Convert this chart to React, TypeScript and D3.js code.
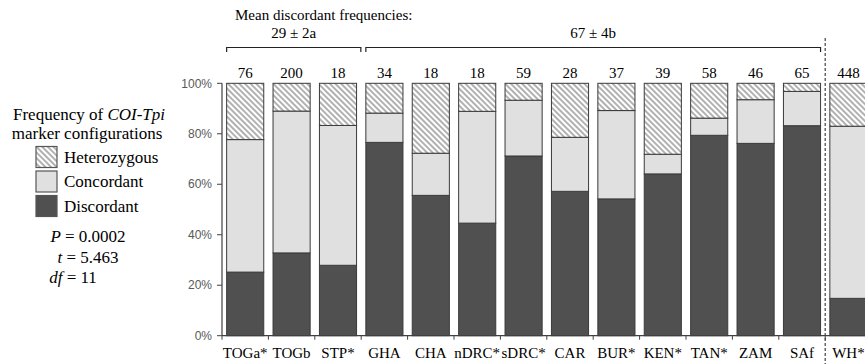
import * as d3 from "d3";

// categories (populations) and sample sizes
const categories = ["TOGa*", "TOGb", "STP*", "GHA", "CHA", "nDRC*", "sDRC*", "CAR", "BUR*", "KEN*", "TAN*", "ZAM", "SAf", "WH*"];
const counts = [76, 200, 18, 34, 18, 18, 59, 28, 37, 39, 58, 46, 65, 448];

// percentages, bottom to top
const discordant = [25.2, 32.8, 27.9, 76.6, 55.6, 44.6, 71.2, 57.2, 54.2, 64.1, 79.4, 76.2, 83.2, 14.8];
const concordant = [52.5, 56.2, 55.4, 11.6, 16.7, 44.3, 22.1, 21.4, 35.0, 7.8, 6.8, 17.3, 13.6, 68.2];
const heterozygous = [22.3, 11.0, 16.7, 11.8, 27.7, 11.1, 6.7, 21.4, 10.8, 28.1, 13.8, 6.5, 3.2, 17.0];

const yTicks = [0, 20, 40, 60, 80, 100];
const seriesKeys = ["discordant", "concordant", "heterozygous"];
const fills: Record<string, string> = {
  discordant: "#505050",
  concordant: "#e0e0e0",
  heterozygous: "url(#hatch)",
};

const legendItems = ["Heterozygous", "Concordant", "Discordant"];

const serif = "'Liberation Serif', 'Times New Roman', serif";
const sans = "'Liberation Sans', Arial, sans-serif";

export default function App() {
  const width = 865;
  const height = 364;
  const left = 222;
  const step = 46.4;

  const table = categories.map((c, i) => ({
    cat: c,
    discordant: discordant[i],
    concordant: concordant[i],
    heterozygous: heterozygous[i],
  }));

  const stack = d3.stack<any>().keys(seriesKeys);
  const layers = stack(table);

  const x = d3
    .scaleBand()
    .domain(categories)
    .range([left, left + step * categories.length])
    .paddingInner(0.2)
    .paddingOuter(0.1);

  const y = d3.scaleLinear().domain([0, 100]).range([335.7, 83.3]);

  const bw = x.bandwidth();
  const boundary = (i: number) => left + i * step;

  const b1a = x("TOGa*")!;
  const b1b = x("GHA")! - 5;
  const b2a = x("GHA")!;
  const b2b = x("SAf")! + bw;

  return (
    <svg
      width={width}
      height={height}
      style={{ position: "absolute", left: 0, top: 0, background: "#fff" }}
    >
      <defs>
        <pattern id="hatch" patternUnits="userSpaceOnUse" width={4} height={4} patternTransform="rotate(45)">
          <rect width={4} height={4} fill="#fff" />
          <line x1={0} y1={2} x2={4} y2={2} stroke="#a8a8a8" strokeWidth={1.8} />
        </pattern>
      </defs>

      {/* bars */}
      {layers.map((layer) => (
        <g key={layer.key}>
          {layer.map((d, i) => (
            <rect
              key={i}
              x={x(categories[i])}
              y={y(d[1])}
              width={bw}
              height={y(d[0]) - y(d[1])}
              fill={fills[layer.key]}
              stroke="#3a3a3a"
              strokeWidth={1}
            />
          ))}
        </g>
      ))}

      {/* axes */}
      <line x1={left} x2={left} y1={y(100)} y2={y(0)} stroke="#404040" strokeWidth={1.2} />
      <line x1={left} x2={width} y1={y(0)} y2={y(0)} stroke="#404040" strokeWidth={1.2} />
      {yTicks.map((t) => (
        <g key={t}>
          <line x1={left - 5} x2={left} y1={y(t)} y2={y(t)} stroke="#404040" />
          <text
            x={left - 10}
            y={y(t)}
            dy="0.35em"
            textAnchor="end"
            fontFamily={sans}
            fontSize={12}
            fill="#595959"
          >
            {t}%
          </text>
        </g>
      ))}
      {categories.map((c, i) => (
        <g key={c}>
          <line x1={boundary(i)} x2={boundary(i)} y1={y(0)} y2={y(0) + 4} stroke="#404040" />
          <text x={x(c)! + bw / 2} y={358} textAnchor="middle" fontFamily={serif} fontSize={15}>
            {c}
          </text>
          <text x={x(c)! + bw / 2} y={78} textAnchor="middle" fontFamily={serif} fontSize={15}>
            {counts[i]}
          </text>
        </g>
      ))}

      {/* dashed separator */}
      <line
        x1={boundary(13)}
        x2={boundary(13)}
        y1={38}
        y2={height}
        stroke="#404040"
        strokeWidth={1.2}
        strokeDasharray="3,2"
      />

      {/* brackets */}
      <text x={235} y={20} fontFamily={serif} fontSize={15}>
        Mean discordant frequencies:
      </text>
      <path d={`M${b1a},52 V47.5 H${b1b} V52`} fill="none" stroke="#222" strokeWidth={1.2} />
      <text x={(b1a + b1b) / 2} y={38} textAnchor="middle" fontFamily={serif} fontSize={15}>
        29 ± 2a
      </text>
      <path d={`M${b2a},52 V47.5 H${b2b} V52`} fill="none" stroke="#222" strokeWidth={1.2} />
      <text x={(b2a + b2b) / 2} y={38} textAnchor="middle" fontFamily={serif} fontSize={15}>
        67 ± 4b
      </text>

      {/* legend */}
      <text x={89} y={120} textAnchor="middle" fontFamily={serif} fontSize={17}>
        Frequency of <tspan fontStyle="italic">COI-Tpi</tspan>
      </text>
      <text x={87} y={139} textAnchor="middle" fontFamily={serif} fontSize={17}>
        marker configurations
      </text>
      {legendItems.map((name, i) => (
        <g key={name}>
          <rect
            x={36}
            y={146.5 + i * 24.5}
            width={21}
            height={21}
            fill={fills[name.toLowerCase()]}
            stroke="#555"
            strokeWidth={1.2}
          />
          <text x={64} y={157 + i * 24.5} dy="0.35em" fontFamily={serif} fontSize={17}>
            {name}
          </text>
        </g>
      ))}
      <text x={88} y={242} textAnchor="middle" fontFamily={serif} fontSize={17}>
        <tspan fontStyle="italic">P</tspan> = 0.0002
      </text>
      <text x={88} y={263} textAnchor="middle" fontFamily={serif} fontSize={17}>
        <tspan fontStyle="italic">t</tspan> = 5.463
      </text>
      <text x={73} y={283} textAnchor="middle" fontFamily={serif} fontSize={17}>
        <tspan fontStyle="italic">df</tspan> = 11
      </text>
    </svg>
  );
}
